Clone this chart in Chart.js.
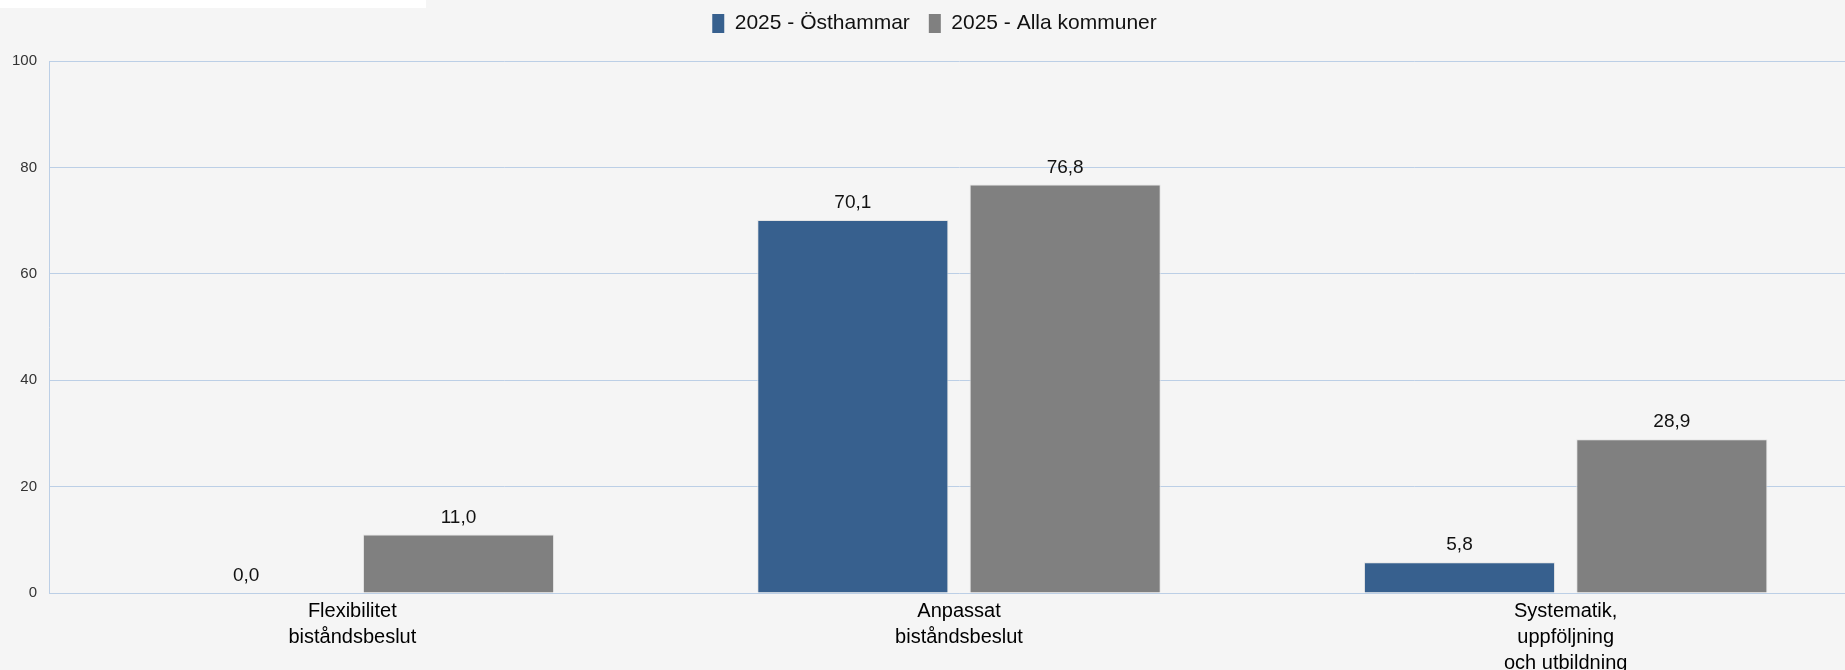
<!DOCTYPE html>
<html lang="sv">
<head>
<meta charset="utf-8">
<title>Biståndsbeslut 2025</title>
<script src="https://cdn.jsdelivr.net/npm/chart.js@4.4.1/dist/chart.umd.min.js"></script>
<style>
    html, body {
        margin: 0;
        padding: 0;
        background: #f5f5f5;
        overflow: hidden;
        width: 1845px;
        height: 670px;
    }
    .wrap {
        position: relative;
        width: 1884px;
        height: 690px;
    }
    .topbar {
        position: absolute;
        left: 0;
        top: 0;
        width: 426px;
        height: 8px;
        background: #ffffff;
    }
</style>
</head>
<body>
<div class="wrap">
    <canvas id="chart" width="1884" height="690"></canvas>
    <div class="topbar"></div>
</div>
<script>
// Kategorier och värden (procent)
const categories = [
    ['Flexibilitet', 'biståndsbeslut'],
    ['Anpassat', 'biståndsbeslut'],
    ['Systematik,', 'uppföljning', 'och utbildning']
];
const seriesNames = ['2025 - Östhammar', '2025 - Alla kommuner'];
const osthammarValues = [0.0, 70.1, 5.8];
const allaValues = [11.0, 76.8, 28.9];
const yTicks = [0, 20, 40, 60, 80, 100];

const FONT = '"Liberation Sans", Arial, sans-serif';
const GRID = '#bccfe6';

/**
 * Writes the value above each bar, Swedish decimal comma
 */
const valueLabels = {
    id: 'valueLabels',
    afterDatasetsDraw(chart) {
        const ctx = chart.ctx;
        ctx.save();
        ctx.font = '19px ' + FONT;
        ctx.fillStyle = '#111111';
        ctx.textAlign = 'center';
        ctx.textBaseline = 'middle';
        chart.data.datasets.forEach((ds, i) => {
            const meta = chart.getDatasetMeta(i);
            meta.data.forEach((bar, j) => {
                const text = ds.data[j].toFixed(1).replace('.', ',');
                ctx.fillText(text, bar.x, bar.y - 17);
            });
        });
        ctx.restore();
    }
};

/**
 * Extra room under the legend
 */
const legendSpacing = {
    id: 'legendSpacing',
    beforeInit(chart) {
        const fit = chart.legend.fit;
        chart.legend.fit = function () {
            fit.bind(chart.legend)();
            this.height += 17;
        };
    }
};

const ctx = document.getElementById('chart').getContext('2d');
new Chart(ctx, {
    type: 'bar',
    data: {
        labels: categories,
        datasets: [{
            label: seriesNames[0],
            data: osthammarValues,
            backgroundColor: '#37608e',
            borderColor: '#e4e4e4',
            borderWidth: 1
        }, {
            label: seriesNames[1],
            data: allaValues,
            backgroundColor: '#808080',
            borderColor: '#e4e4e4',
            borderWidth: 1
        }]
    },
    options: {
        responsive: false,
        animation: false,
        categoryPercentage: 0.7,
        barPercentage: 0.9,
        layout: {
            padding: { top: -6, right: 15, bottom: 0, left: 0 }
        },
        plugins: {
            legend: {
                position: 'top',
                labels: {
                    font: { family: FONT, size: 21 },
                    color: '#111111',
                    boxWidth: 12,
                    boxHeight: 19,
                    padding: 19,
                    generateLabels: (chart) => chart.data.datasets.map((ds, i) => ({
                        text: ds.label,
                        fillStyle: ds.backgroundColor,
                        strokeStyle: ds.backgroundColor,
                        lineWidth: 0,
                        fontColor: '#111111',
                        hidden: false,
                        datasetIndex: i
                    }))
                }
            },
            tooltip: { enabled: false }
        },
        scales: {
            x: {
                grid: { display: false },
                border: { color: GRID, width: 1 },
                ticks: {
                    font: { family: FONT, size: 20, lineHeight: 1.3 },
                    color: '#000000',
                    padding: -3,
                    maxRotation: 0,
                    autoSkip: false
                },
                afterFit: (scale) => { scale.height = 97; }
            },
            y: {
                min: 0,
                max: 100,
                afterBuildTicks: (scale) => {
                    scale.ticks = yTicks.map(v => ({ value: v }));
                },
                grid: {
                    color: GRID,
                    lineWidth: 1,
                    drawTicks: false
                },
                border: { color: GRID, width: 1 },
                ticks: {
                    font: { family: FONT, size: 15 },
                    color: '#333333',
                    padding: 12
                },
                afterFit: (scale) => { scale.width = 49; }
            }
        }
    },
    plugins: [valueLabels, legendSpacing]
});
</script>
</body>
</html>
